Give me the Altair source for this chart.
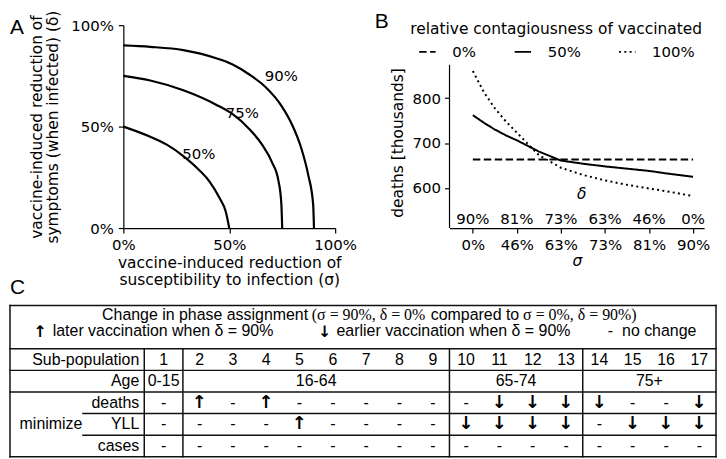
import json
import altair as alt
import pandas as pd

SANS = "DejaVu Sans"
ARIAL = "Liberation Sans"
SERIF = "Liberation Serif"
INK = "#000000"

# ---------------- Panel A data ----------------
sigma_90 = [0.0, 0.127, 0.283, 0.438, 0.516, 0.593, 0.671, 0.748, 0.795, 0.842, 0.873, 0.896, 0.90]
delta_90 = [0.90, 0.893, 0.877, 0.837, 0.806, 0.758, 0.695, 0.600, 0.513, 0.387, 0.261, 0.118, 0.0]
sigma_75 = [0.0, 0.127, 0.283, 0.438, 0.516, 0.593, 0.655, 0.702, 0.733, 0.746, 0.75]
delta_75 = [0.75, 0.727, 0.679, 0.608, 0.561, 0.490, 0.411, 0.324, 0.229, 0.118, 0.0]
sigma_50 = [0.0, 0.127, 0.205, 0.283, 0.360, 0.407, 0.453, 0.484, 0.50]
delta_50 = [0.50, 0.450, 0.411, 0.355, 0.284, 0.229, 0.150, 0.079, 0.0]
curve_names = ["90%", "75%", "50%"]
curve_label_sigma = [0.746, 0.562, 0.356]
curve_label_delta = [0.75, 0.569, 0.363]

# ---------------- Panel B data ----------------
b_pos = [0, 0.25, 0.5, 0.75, 1, 1.5, 2, 2.5, 3, 3.5, 4, 4.5, 5]
deaths_c0 = [663.5, 663.5, 663.5, 663.5, 663.5, 663.5, 663.5, 663.5, 663.5, 663.5, 663.5, 663.5, 663.5]
deaths_c50 = [762, 745, 730, 717, 706, 681, 661, 654, 648, 643, 638, 631, 625]
deaths_c100 = [860, 813, 777, 748, 723, 673, 645, 629, 617, 607, 599, 591, 582]
contag_names = ["0%", "50%", "100%"]
sigma_labels = ["0%", "46%", "63%", "73%", "81%", "90%"]
delta_labels = ["90%", "81%", "73%", "63%", "46%", "0%"]

# ---------------- Panel C data ----------------
subpops = list(range(1, 18))
age_groups = ["0-15", "16-64", "65-74", "75+"]
age_first = [1, 2, 10, 14]
age_last = [1, 9, 13, 17]
row_deaths = ["-", "↑", "-", "↑", "-", "-", "-", "-", "-", "-", "↓", "↓", "↓", "↓", "-", "-", "↓"]
row_yll = ["-", "-", "-", "-", "↑", "-", "-", "-", "-", "↓", "↓", "↓", "↓", "-", "↓", "↓", "↓"]
row_cases = ["-", "-", "-", "-", "-", "-", "-", "-", "-", "-", "-", "-", "-", "-", "-", "-", "-"]
row_names = ["deaths", "YLL", "cases"]

# layout helpers (pixels)
LEFT_OVERHANG = 114     # from the panel letters to the plot of panel A
PLOT_H = 204

# =====================================================================
# Panel A
# =====================================================================
dfA = pd.DataFrame({
    "level": [curve_names[0]] * len(sigma_90) + [curve_names[1]] * len(sigma_75) + [curve_names[2]] * len(sigma_50),
    "sigma": sigma_90 + sigma_75 + sigma_50,
    "delta": delta_90 + delta_75 + delta_50,
    "ord": list(range(len(sigma_90))) + list(range(len(sigma_75))) + list(range(len(sigma_50))),
})
dfA_lab = pd.DataFrame({"level": curve_names, "sigma": curve_label_sigma, "delta": curve_label_delta})

xA = alt.X("sigma:Q", scale=alt.Scale(domain=[0, 1], nice=False, zero=False),
           axis=alt.Axis(values=[0, 0.5, 1], format=".0%", grid=False, tickSize=5, tickWidth=1.2,
                         domainWidth=1.2, domainColor=INK, tickColor=INK, labelColor=INK,
                         labelFont=SANS, labelFontSize=15, labelPadding=5, labelFlush=False,
                         title=["vaccine-induced reduction of", "susceptibility to infection (σ)"],
                         titleFont=SANS, titleFontSize=15.5, titleFontWeight="normal",
                         titleColor=INK, titlePadding=3, titleLineHeight=17))
yA = alt.Y("delta:Q", scale=alt.Scale(domain=[0, 1], nice=False, zero=False),
           axis=alt.Axis(values=[0, 0.5, 1], format=".0%", grid=False, tickSize=5, tickWidth=1.2,
                         domainWidth=1.2, domainColor=INK, tickColor=INK, labelColor=INK,
                         labelFont=SANS, labelFontSize=15, labelPadding=5, labelFlush=False,
                         title=["vaccine-induced reduction of", "symptoms (when infected) (δ)"],
                         titleFont=SANS, titleFontSize=15.5, titleFontWeight="normal",
                         titleColor=INK, titlePadding=10, titleLineHeight=16))

linesA = alt.Chart(dfA).mark_line(color=INK, strokeWidth=2.2, interpolate="monotone").encode(
    x=xA, y=yA, detail="level:N", order="ord:Q")
labelsA = alt.Chart(dfA_lab).mark_text(font=SANS, fontSize=15, color=INK).encode(
    x="sigma:Q", y="delta:Q", text="level:N")
letterA = alt.Chart(pd.DataFrame({"t": ["A"]})).mark_text(
    font=ARIAL, fontSize=21, align="left", baseline="alphabetic", color=INK).encode(
    text="t:N", x=alt.value(-LEFT_OVERHANG), y=alt.value(8.8))
letterC = alt.Chart(pd.DataFrame({"t": ["C"]})).mark_text(
    font=ARIAL, fontSize=21, align="left", baseline="alphabetic", color=INK).encode(
    text="t:N", x=alt.value(-LEFT_OVERHANG), y=alt.value(270.5))

panelA = alt.layer(linesA, labelsA, letterA, letterC).properties(width=213, height=PLOT_H)

# =====================================================================
# Panel B
# =====================================================================
dfB = pd.DataFrame({
    "contag": [contag_names[0]] * len(b_pos) + [contag_names[1]] * len(b_pos) + [contag_names[2]] * len(b_pos),
    "pos": b_pos * 3,
    "deaths": deaths_c0 + deaths_c50 + deaths_c100,
})
dfB_top = pd.DataFrame({"pos": list(range(6)), "lab": delta_labels, "deaths": [530] * 6})
dfB_delta = pd.DataFrame({"pos": [2.47], "deaths": [585.5], "t": ["δ"]})
B_XMIN, B_XMAX = -0.53, 5.25
B_YMIN, B_YTOP, B_YMAX = 511, 874, 962
dfB_spine = pd.DataFrame({"pos": [B_XMIN], "y1": [B_YMIN], "y2": [B_YTOP]})

label_expr = "%s[datum.value]" % json.dumps(sigma_labels)
xB = alt.X("pos:Q", scale=alt.Scale(domain=[B_XMIN, B_XMAX], nice=False, zero=False),
           axis=alt.Axis(values=[0, 1, 2, 3, 4, 5], labelExpr=label_expr, grid=False, tickSize=5,
                         tickWidth=1.2, domainWidth=1.2, domainColor=INK, tickColor=INK,
                         labelColor=INK, labelFont=SANS, labelFontSize=15, labelPadding=5,
                         labelFlush=False, title="σ", titleFont=SANS, titleFontSize=15.5,
                         titleFontStyle="italic", titleFontWeight="normal", titleColor=INK,
                         titlePadding=1))
yB = alt.Y("deaths:Q", scale=alt.Scale(domain=[B_YMIN, B_YMAX], nice=False, zero=False),
           axis=alt.Axis(values=[600, 700, 800], grid=False, domain=False, tickSize=5, tickWidth=1.2,
                         tickColor=INK, labelColor=INK,
                         labelFont=SANS, labelFontSize=15, labelPadding=4, labelFlush=False,
                         title="deaths [thousands]", titleFont=SANS, titleFontSize=15.5,
                         titleFontWeight="normal", titleColor=INK, titlePadding=7, titleY=118))

linesB = alt.Chart(dfB).mark_line(color=INK, strokeWidth=2).encode(
    x=xB, y=yB,
    strokeDash=alt.StrokeDash(
        "contag:N",
        scale=alt.Scale(domain=contag_names, range=[[7.5, 3.5], [1, 0], [2, 3.3]]),
        legend=alt.Legend(
            orient="none", legendX=-39.75, legendY=-2.7, direction="horizontal",
            title="relative contagiousness of vaccinated", titleFont=SANS, titleFontSize=15.5,
            titleFontWeight="normal", titleColor=INK, titleAnchor="middle", titlePadding=4.3,
            titleLimit=500, labelFont=SANS, labelFontSize=15, labelColor=INK, labelOffset=15.5,
            symbolType="stroke", symbolSize=272, symbolStrokeWidth=2, symbolStrokeColor=INK,
            columnPadding=34, padding=0)),
    order=alt.Order("pos:Q"))
spineB = alt.Chart(dfB_spine).mark_rule(color=INK, strokeWidth=1.2).encode(
    x="pos:Q", y="y1:Q", y2="y2:Q")
topLabB = alt.Chart(dfB_top).mark_text(font=SANS, fontSize=15, color=INK).encode(
    x="pos:Q", y="deaths:Q", text="lab:N")
deltaB = alt.Chart(dfB_delta).mark_text(font=SANS, fontSize=15.5, fontStyle="italic", color=INK).encode(
    x="pos:Q", y="deaths:Q", text="t:N")
letterB = alt.Chart(pd.DataFrame({"t": ["B"]})).mark_text(
    font=ARIAL, fontSize=21, align="left", baseline="alphabetic", color=INK).encode(
    text="t:N", x=alt.value(-75.3), y=alt.value(2.6))

panelB = alt.layer(linesB, spineB, topLabB, deltaB, letterB).properties(width=256, height=PLOT_H)

# =====================================================================
# Panel C  (table)
# =====================================================================
HEAD_W = 4.03
C1_W = 1.16
TOT = HEAD_W + C1_W + 16
TABLE_PX = 710
U0 = TOT * LEFT_OVERHANG / TABLE_PX      # table border sits under the panel letters


def col_center(k):
    if k == 1:
        return HEAD_W + C1_W / 2
    return HEAD_W + C1_W + (k - 2) + 0.5


def col_left(k):
    return HEAD_W if k == 1 else HEAD_W + C1_W + (k - 2)


def col_right(k):
    return HEAD_W + C1_W if k == 1 else HEAD_W + C1_W + (k - 1)


rules = []
for yy in [0, 2, 3, 4, 7]:
    rules.append(dict(x1=0, x2=TOT, y1=yy, y2=yy))
for yy in [5, 6]:
    rules.append(dict(x1=2.19, x2=TOT, y1=yy, y2=yy))
rules.append(dict(x1=0, x2=0, y1=0, y2=7))
rules.append(dict(x1=TOT, x2=TOT, y1=0, y2=7))
for k in [1, 2, 10, 14]:
    xx = col_left(k)
    rules.append(dict(x1=xx, x2=xx, y1=2, y2=7))
dfRules = pd.DataFrame(rules)

cells = []
for k in subpops:
    cells.append(dict(x=col_center(k), y=2.5, t=str(k)))
for name, a, b in zip(age_groups, age_first, age_last):
    cells.append(dict(x=(col_left(a) + col_right(b)) / 2, y=3.5, t=name))
for r, vals in enumerate([row_deaths, row_yll, row_cases]):
    for k, v in zip(subpops, vals):
        cells.append(dict(x=col_center(k), y=4.5 + r, t=v))
dfCells = pd.DataFrame(cells)
dfCells["arrow"] = dfCells["t"].isin(["↑", "↓"])

dfRowLab = pd.DataFrame({"x": [3.88] * 5, "y": [2.5, 3.5, 4.5, 5.5, 6.5],
                         "t": ["Sub-population", "Age"] + row_names})
dfMin = pd.DataFrame({"x": [1.23], "y": [5.5], "t": ["minimize"]})

dfHeadSans = pd.DataFrame({
    "x": [2.764, 12.63, 1.283, 9.80, 18.37],
    "y": [0.42, 0.42, 1.2, 1.2, 1.2],
    "t": ["Change in phase assignment", "compared to", "later vaccination when δ = 90%",
          "earlier vaccination when δ = 90%", "no change"]})
dfHeadSerif = pd.DataFrame({"x": [9.058, 15.4], "y": [0.42, 0.42],
                            "t": ["(σ = 90%, δ = 0%", "σ = 0%, δ = 90%)"]})
dfHeadSym = pd.DataFrame({"x": [0.898, 9.437, 18.02], "y": [1.22, 1.22, 1.2], "t": ["↑", "↓", "-"]})

sxC = alt.Scale(domain=[U0, TOT], nice=False, zero=False)
syC = alt.Scale(domain=[0, 7], reverse=True, nice=False, zero=False)
xC = alt.X("x:Q", scale=sxC, axis=None)
yC = alt.Y("y:Q", scale=syC, axis=None)

rulesC = alt.Chart(dfRules).mark_rule(color="#111111", strokeWidth=1.5, strokeCap="square").encode(
    x=alt.X("x1:Q", scale=sxC, axis=None), x2="x2:Q",
    y=alt.Y("y1:Q", scale=syC, axis=None), y2="y2:Q")
plainC = alt.Chart(dfCells).transform_filter("!datum.arrow").mark_text(
    font=ARIAL, fontSize=16, color=INK).encode(x=xC, y=yC, text="t:N")
arrowC = alt.Chart(dfCells).transform_filter("datum.arrow").mark_text(
    font=SANS, fontSize=18, fontWeight="bold", color=INK).encode(x=xC, y=yC, text="t:N")
rowLabC = alt.Chart(dfRowLab).mark_text(font=ARIAL, fontSize=16, align="right", color=INK).encode(
    x=xC, y=yC, text="t:N")
minC = alt.Chart(dfMin).mark_text(font=ARIAL, fontSize=16, color=INK).encode(x=xC, y=yC, text="t:N")
headSans = alt.Chart(dfHeadSans).mark_text(font=ARIAL, fontSize=16, align="left", color=INK).encode(
    x=xC, y=yC, text="t:N")
headSerif = alt.Chart(dfHeadSerif).mark_text(font=SERIF, fontSize=16, align="left", color=INK).encode(
    x=xC, y=yC, text="t:N")
headSym = alt.Chart(dfHeadSym).transform_filter("datum.t != '-'").mark_text(
    font=SANS, fontSize=16, fontWeight="bold", color=INK).encode(x=xC, y=yC, text="t:N")
headDash = alt.Chart(dfHeadSym).transform_filter("datum.t == '-'").mark_text(
    font=ARIAL, fontSize=16, color=INK).encode(x=xC, y=yC, text="t:N")

panelC = alt.layer(rulesC, plainC, arrowC, rowLabC, minC, headSans, headSerif, headSym, headDash).properties(
    width=TABLE_PX - LEFT_OVERHANG, height=152)

top = alt.hconcat(panelA, panelB, spacing=17).resolve_scale(strokeDash="independent").resolve_legend(
    strokeDash="independent")
chart = alt.vconcat(top, panelC, spacing=5).resolve_scale(strokeDash="independent").resolve_legend(
    strokeDash="independent").properties(padding=0).configure_view(strokeWidth=0)

chart.save("out.html", embed_options={"renderer": "svg", "actions": False})
